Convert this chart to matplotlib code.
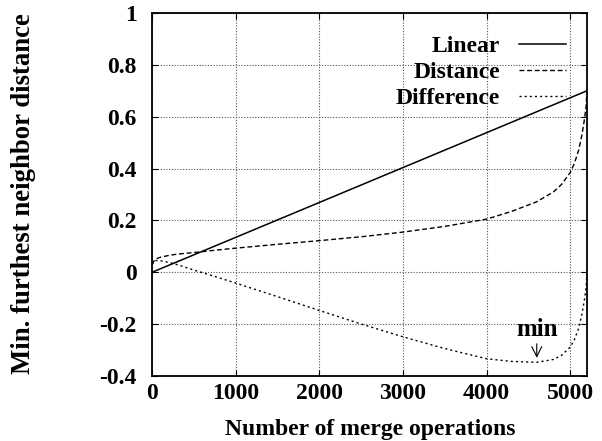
import matplotlib
matplotlib.use("Agg")
import matplotlib.pyplot as plt
import numpy as np
from matplotlib.ticker import FuncFormatter

# ---- data ----
merge_ops = [0, 20, 36, 50, 100, 200, 300, 500, 750, 1000, 1500, 2000, 2500, 3000,
             3500, 4000, 4300, 4600, 4800, 4900, 5000, 5050, 5100, 5140, 5170,
             5190, 5200]
distance = [0.030, 0.042, 0.048, 0.052, 0.058, 0.065, 0.070, 0.076, 0.085, 0.093,
            0.108, 0.122, 0.137, 0.155, 0.177, 0.205, 0.235, 0.272, 0.310, 0.340,
            0.385, 0.420, 0.470, 0.530, 0.590, 0.640, 0.700]
linear_start = 0.0
linear_end = 0.70
min_x = 4600
min_y = -0.33

x_ticks = [0, 1000, 2000, 3000, 4000, 5000]
y_ticks = [-0.4, -0.2, 0, 0.2, 0.4, 0.6, 0.8, 1]

x = np.array(merge_ops, dtype=float)
d = np.array(distance)
lin = linear_start + (linear_end - linear_start) * x / x[-1]
diff = d - lin

plt.rcParams['font.family'] = ['Liberation Serif', 'DejaVu Serif']
plt.rcParams['font.weight'] = 'bold'
FS = 17

fig = plt.figure(figsize=(6.02, 4.41), dpi=100)
ax = fig.add_axes([0.2525, 0.1474, 0.7225, 0.8231])

ax.plot(x, lin, color='black', lw=1.1, label='Linear')
ax.plot(x, d, color='black', lw=1.0, dashes=(3.5, 2), label='Distance')
ax.plot(x, diff, color='black', lw=1.0, dashes=(1.5, 2.2), label='Difference')

ax.set_xlim(0, 5200)
ax.set_ylim(-0.4, 1.0)
ax.set_xticks(x_ticks)
ax.set_yticks(y_ticks)
ax.yaxis.set_major_formatter(FuncFormatter(lambda v, p: '%g' % v))
ax.tick_params(direction='in', length=4, width=0.8, top=True, right=True,
               labelsize=FS)
ax.tick_params(axis='y', pad=11)
ax.tick_params(axis='x', pad=5)
for lab in ax.get_xticklabels() + ax.get_yticklabels():
    lab.set_fontweight('bold')

ax.grid(True, color='#555555', linestyle=(0, (1, 1.5)), lw=0.8)
for s in ax.spines.values():
    s.set_linewidth(1.3)

fig.text(370 / 602, 1 - 430 / 441, 'Number of merge operations', fontsize=FS,
         fontweight='bold', ha='center', va='center')
fig.text(24 / 602, 1 - 194 / 441, 'Min. furthest neighbor distance', fontsize=19.3,
         fontweight='bold', ha='center', va='center', rotation=90)

leg = ax.legend(loc='upper right', bbox_to_anchor=(0.985, 0.976), frameon=False,
                markerfirst=False, fontsize=FS, handlelength=2.0, labelspacing=0.18,
                handletextpad=0.8, borderaxespad=0.2)
for t in leg.get_texts():
    t.set_fontweight('bold')
    t.set_ha('right')

ax.annotate('min', xy=(min_x, min_y), xytext=(min_x, -0.265),
            ha='center', va='bottom', fontsize=18, fontweight='bold',
            arrowprops=dict(arrowstyle='->', color='black', lw=0.8,
                            shrinkA=0, shrinkB=0))

fig.savefig('out.png', dpi=100)
